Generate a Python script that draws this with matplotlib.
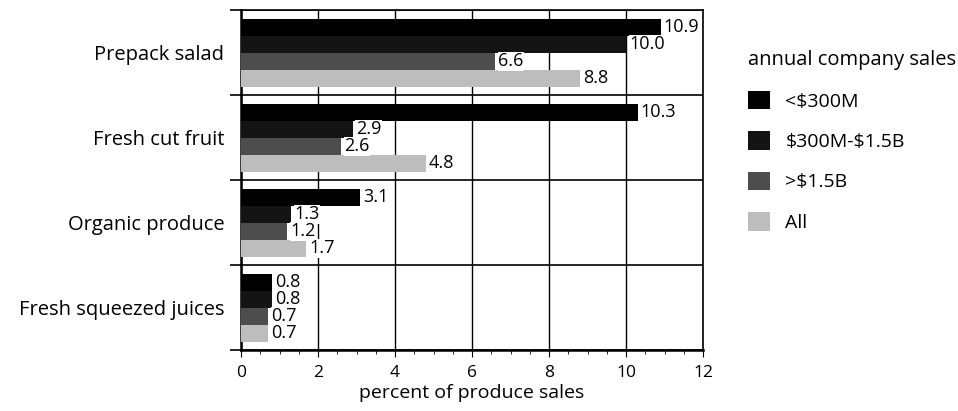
import matplotlib.pyplot as plt
import numpy as np
from matplotlib.ticker import MultipleLocator

plt.rcParams['font.family'] = ['Open Sans', 'DejaVu Sans']

# produce categories, top to bottom
categories = ["Prepack salad", "Fresh cut fruit", "Organic produce", "Fresh squeezed juices"]

# percent of produce sales by company size
series_names = ["<\\$300M", "\\$300M-\\$1.5B", ">\\$1.5B", "All"]
small = [10.9, 10.3, 3.1, 0.8]
mid = [10.0, 2.9, 1.3, 0.8]
large = [6.6, 2.6, 1.2, 0.7]
all_cos = [8.8, 4.8, 1.7, 0.7]

values = [small, mid, large, all_cos]
colors = ["#000000", "#141414", "#4d4d4d", "#bdbdbd"]

fig = plt.figure(figsize=(9.58, 4.11), dpi=100)
ax = fig.add_axes([0.2516, 0.148, 0.4823, 0.827])

n = len(categories)
centers = np.arange(n)[::-1] + 0.5
offsets = [0.3, 0.1, -0.1, -0.3]
bar_h = 0.2

for vals, off, col, name in zip(values, offsets, colors, series_names):
    ypos = centers + off
    ax.barh(ypos, vals, height=bar_h, color=col, label=name, zorder=3)
    for y, v in zip(ypos, vals):
        ax.text(v + 0.08, y, f"{v:.1f}", va='center', ha='left', fontsize=13,
                zorder=4, bbox=dict(facecolor='white', edgecolor='none', pad=0.3))

ax.set_xlim(0, 12)
ax.set_ylim(0, n)
ax.xaxis.set_major_locator(MultipleLocator(2))
ax.xaxis.set_minor_locator(MultipleLocator(0.5))
ax.grid(axis='x', which='major', color='black', linewidth=1.0, zorder=1)

# category boundaries as major ticks, names at band centres
ax.set_yticks(np.arange(n + 1))
ax.set_yticklabels([])
ax.set_yticks(centers, minor=True)
ax.set_yticklabels(categories, minor=True, fontsize=14.5)
ax.tick_params(axis='y', which='minor', length=0, pad=12)
ax.tick_params(axis='y', which='major', length=8, width=1.2)
ax.grid(axis='y', which='major', color='black', linewidth=1.2, zorder=2)

ax.tick_params(axis='x', which='major', length=5, labelsize=12.5, pad=6)
ax.tick_params(axis='x', which='minor', length=3)
ax.set_xlabel("percent of produce sales", fontsize=14, labelpad=2)

for side in ['left', 'bottom']:
    ax.spines[side].set_linewidth(1.8)
for side in ['top', 'right']:
    ax.spines[side].set_linewidth(1.2)

leg = fig.legend(loc='upper left', bbox_to_anchor=(0.763, 0.92), frameon=False,
                 title="annual company sales", title_fontsize=14.5, fontsize=14,
                 handlelength=1.1, handleheight=1.1, labelspacing=1.05,
                 handletextpad=0.8, alignment='left')

fig.savefig("out.png", dpi=100)
